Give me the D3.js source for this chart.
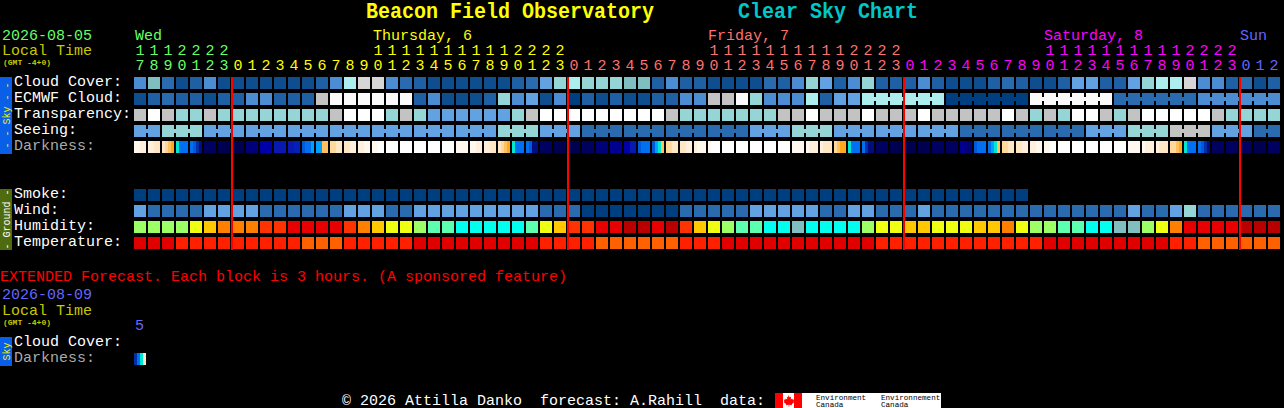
<!DOCTYPE html>
<html><head><meta charset="utf-8"><title>Clear Sky Chart</title>
<script src="https://d3js.org/d3.v7.min.js"></script>
<style>html,body{margin:0;padding:0;background:#000;overflow:hidden}svg{display:block}text{font-family:"Liberation Mono",monospace;white-space:pre}</style>
</head><body><svg id="c" width="1284" height="408"></svg>
<script>
const hours = [17,18,19,20,21,22,23].concat(...[0,1,2].map(()=>d3.range(24)),[0,1,2]);
const dayColorAt = [[0,"#66FF66"],[7,"#FFFF00"],[31,"#FF7070"],[55,"#FF00FF"],[79,"#6666FF"]];
const rowsSky = ["Cloud Cover:","ECMWF Cloud:","Transparency:","Seeing:","Darkness:"];
const rowsGround = ["Smoke:","Wind:","Humidity:","Temperature:"];

const skyColors = ["#003F7F","#0F4E8E","#1F5FA3","#2A6BAF","#4C8CD2","#62A2E2","#80BFBF","#95D5D5","#ACEDED","#C3C3C3","#D6D6D6","#FAFAFA","#FFFFFF"];
const cloudCover = [4,6,3,1,2,4,1,1,1,1,1,1,1,2,4,8,10,10,4,3,2,1,1,1,1,1,1,2,3,5,7,8,7,7,7,6,6,2,4,2,2,1,1,1,1,3,2,4,7,5,2,4,7,2,2,2,4,2,1,1,1,2,3,2,1,1,2,5,5,2,2,5,7,8,8,10,4,4,2,3,1,2];
const ecmwf = [1,2,3,2,2,1,2,2,4,4,2,2,2,9,11,11,11,11,11,11,2,4,1,1,1,2,7,4,5,1,4,0,2,1,2,1,1,2,2,4,4,9,9,11,7,4,4,4,8,2,5,5,8,8,8,8,8,8,0,0,0,0,0,0,11,11,11,11,11,11,3,3,3,3,3,3,4,4,4,4,4,4];
const ecmwfBridgeStart = 52, ecmwfBlock = 6;
const transparency = [9,12,9,7,7,9,7,7,7,7,7,7,7,7,9,12,12,12,7,9,7,5,5,5,5,5,5,7,9,12,12,12,12,12,12,12,12,12,9,7,7,7,7,7,7,7,9,9,12,9,9,9,12,9,9,9,12,9,9,9,9,9,12,9,7,9,7,12,12,9,7,9,12,12,12,12,12,9,7,7,7,7];
const seeing = [5,5,7,7,7,5,5,5,5,5,5,5,5,5,5,5,5,5,5,5,5,5,5,5,5,5,7,7,7,5,5,5,3,3,3,3,3,3,3,3,3,3,3,3,5,5,5,7,7,7,5,5,5,5,5,5,5,5,5,3,3,3,3,3,3,3,3,3,5,5,5,7,7,7,9,9,9,5,5,5,3,3];
const smoke = d3.range(64).map(()=>0);
const wind = [5,3,3,3,3,5,5,5,5,3,3,3,3,3,3,5,5,5,3,3,5,5,5,5,5,5,5,5,5,3,3,3,0,0,0,0,0,0,0,3,3,3,3,3,5,5,5,5,5,3,3,5,5,3,3,3,5,3,3,3,3,3,3,3,3,3,3,3,3,3,3,5,3,3,5,7,3,3,3,3,3,3];

const groundColors = {lime:"#9CFF66",yellow:"#EEFF11",amber:"#FFC800",orange:"#FF8000",redorange:"#FF3300",red:"#E80000",darkred:"#B80000",mint:"#5CFFB0",cyan:"#00FFEE",tealgrey:"#80BFBF"};
const humidityCodes = "L L L L Y A O O O R R X X X X R O A Y Y L M M C C C C C M Y A R R X X D D X D R A Y L M M C C T C C C C L Y Y A A Y Y Y A A O Y L L M M C C T T L Y O X X X X D D D".split(" ");
const humidityMap = {L:"lime",Y:"yellow",A:"amber",O:"orange",R:"redorange",X:"red",D:"darkred",M:"mint",C:"cyan",T:"tealgrey"};
const tempColors = ["#E00000","#FF2000","#FF6000"];
const temperature = [0,0,0,1,1,1,1,1,1,1,1,1,2,2,2,1,1,1,1,1,0,0,0,0,0,0,0,0,0,1,1,1,1,2,2,2,2,2,2,1,1,1,0,0,0,0,0,0,0,0,0,0,0,1,1,1,1,1,1,1,1,1,1,1,1,0,0,0,0,0,0,0,0,0,1,1,2,2,2,2,2,2];

const darkColors = ["#FFFFFF","#FFF8EE","#FFF0DC","#FFE6C4","#FFD89C","#FFC060","#FFA820","#00E8D0","#00A0FF","#0070F0","#0058DC","#0030A8","#000C80","#000050","#000060","#000078","#000090","#0000A8","#0818B0","#0420B8"];
const darkness = [[1,1,2,2],[2,2,3,3],[3,4,5,6],[7,9,9,9],[9,10,11,12],[14,14,14,14],[13,13,13,13],[13,13,13,13],[15,15,15,15],[17,17,17,17],[18,18,18,18],[18,18,19,19],[10,9,9,8],[8,8,5,5],[4,4,3,3],[3,3,2,2],[2,2,1,1],[1,1,0,0],[0,0,0,0],[0,0,0,0],[0,0,0,0],
[0,0,0,0],[0,0,0,0],[1,1,1,1],[1,1,2,2],[2,2,3,3],[3,4,5,6],[7,9,9,9],[9,10,12,12],[14,14,14,14],[13,13,13,13],[13,13,13,13],[14,14,14,14],[15,15,15,15],[16,16,16,16],[17,17,18,18],[10,9,9,9],[10,8,7,5],[4,4,3,3],[3,3,2,2],[2,1,1,1],
[1,0,0,0],[0,0,0,0],[0,0,0,0],[0,0,0,0],[0,0,0,0],[0,0,0,0],[1,1,1,1],[1,2,2,2],[2,3,3,3],[4,5,6,6],[7,9,9,9],[9,11,12,12],[14,14,14,14],[13,13,13,13],[13,13,13,13],[13,13,13,13],[14,14,14,14],[14,14,14,14],[16,16,15,15],[10,9,9,9],[9,8,7,5],
[4,4,3,3],[3,3,2,2],[2,2,1,1],[1,1,0,0],[0,0,0,0],[0,0,0,0],[0,0,0,0],[0,0,0,0],[0,0,0,0],[1,1,1,1],[1,2,2,2],[2,3,3,3],[4,4,5,6],[7,9,9,9],[9,10,11,12],[14,14,14,14],[14,14,14,14],[14,14,14,14],[13,13,13,13],[14,14,14,14]];
const extDarkness = [[11,9,7,3]];
const midnights = [7,31,55,79];

const svg = d3.select("#c");
svg.append("rect").attr("width",1284).attr("height",408).attr("fill","#000");
const x = d3.scaleBand().domain(d3.range(82)).range([134,1280]).paddingInner(2/14).paddingOuter(0);
const ySky = d3.scaleBand().domain(rowsSky).range([77,153]).paddingInner(0.25).paddingOuter(0);
const yGround = d3.scaleBand().domain(rowsGround).range([189,249]).paddingInner(0.25).paddingOuter(0);
const skyScale = d3.scaleOrdinal().domain(d3.range(skyColors.length)).range(skyColors);
const tempScale = d3.scaleOrdinal().domain([0,1,2]).range(tempColors);
const humScale = d3.scaleOrdinal().domain(Object.keys(humidityMap)).range(Object.values(humidityMap).map(k=>groundColors[k]));
const darkScale = d3.scaleOrdinal().domain(d3.range(darkColors.length)).range(darkColors);
const stripX = d3.scaleBand().domain(d3.range(4)).range([0,x.bandwidth()]);
const mono = (s,x0,y0,fill,size,opts={})=>{
  const t = svg.append("text").attr("x",x0).attr("y",y0).attr("fill",fill).attr("font-size",size).text(s);
  if(opts.weight) t.attr("font-weight",opts.weight);
  if(opts.len) t.attr("textLength",opts.len).attr("lengthAdjust","spacingAndGlyphs");
  return t;
};
function drawRow(values, y, rowName, color, bridge){
  const g = svg.append("g");
  g.selectAll("rect.c").data(values).join("rect").attr("class","c")
    .attr("x",(d,i)=>x(i)).attr("y",y(rowName)).attr("width",x.bandwidth()).attr("height",y.bandwidth())
    .attr("fill",d=>color(d)).attr("shape-rendering","crispEdges");
  if(bridge){
    const idx = d3.range(values.length-1).filter(bridge);
    g.selectAll("rect.b").data(idx).join("rect").attr("class","b")
      .attr("x",i=>x(i)+x.bandwidth()).attr("y",y(rowName)+y.bandwidth()/3)
      .attr("width",x.step()-x.bandwidth()).attr("height",y.bandwidth()/3)
      .attr("fill",i=>color(values[i])).attr("shape-rendering","crispEdges");
  }
}
drawRow(cloudCover,ySky,"Cloud Cover:",skyScale);
drawRow(ecmwf,ySky,"ECMWF Cloud:",skyScale,i=>i>=ecmwfBridgeStart&&(i-ecmwfBridgeStart)%ecmwfBlock!==ecmwfBlock-1);
drawRow(transparency,ySky,"Transparency:",skyScale);
drawRow(seeing,ySky,"Seeing:",skyScale,i=>(i+1)%3!==2);
drawRow(smoke,yGround,"Smoke:",skyScale);
drawRow(wind,yGround,"Wind:",skyScale);
drawRow(humidityCodes,yGround,"Humidity:",humScale);
drawRow(temperature,yGround,"Temperature:",tempScale);

function drawDark(data, y0){
  const cells = svg.append("g").selectAll("g").data(data).join("g").attr("transform",(d,i)=>`translate(${x(i)},${y0})`);
  cells.selectAll("rect").data(d=>d).join("rect")
    .attr("x",(d,k)=>stripX(k)).attr("width",stripX.bandwidth()).attr("height",x.bandwidth())
    .attr("fill",d=>darkScale(d)).attr("shape-rendering","crispEdges");
}
drawDark(darkness,ySky("Darkness:"));
drawDark(extDarkness,353);

svg.append("g").selectAll("rect").data(midnights).join("rect")
  .attr("x",i=>x(i)-1).attr("y",77).attr("width",2).attr("height",173).attr("fill","#FF0000");

// header
mono("Beacon Field Observatory",366,18,"#FFFF00",22,{weight:"bold",len:288});
mono("Clear Sky Chart",738,18,"#00C8C8",22,{weight:"bold",len:180});
mono("2026-08-05",2,40,"#66FF66",15);
mono("Local Time",2,55,"#C8C800",15);
mono("(GMT -4+0)",3,65,"#C8C800",8,{weight:"bold"});
const colorAt = i=>dayColorAt.filter(d=>d[0]<=i).pop()[1];
const axisOnes = d3.axisTop(x).tickSize(0).tickPadding(0).tickFormat(i=>hours[i]%10);
const gOnes = svg.append("g").attr("transform","translate(0,70)").call(axisOnes);
const axisTens = d3.axisTop(x).tickSize(0).tickPadding(0).tickValues(x.domain().filter(i=>hours[i]>=10)).tickFormat(i=>Math.floor(hours[i]/10));
const gTens = svg.append("g").attr("transform","translate(0,55)").call(axisTens);
[gOnes,gTens].forEach(g=>{
  g.attr("font-family",null).attr("font-size",15);
  g.select(".domain").remove();
  g.selectAll(".tick line").remove();
  g.selectAll(".tick text").attr("dy",0).attr("fill",i=>colorAt(i));
});
mono("Wed",135,40,"#66FF66",15);
mono("Thursday, 6",373,40,"#FFFF00",15);
mono("Friday, 7",708,40,"#FF7070",15);
mono("Saturday, 8",1044,40,"#FF00FF",15);
mono("Sun",1240,40,"#6666FF",15);

rowsSky.forEach(r=>mono(r,14,ySky(r)+9,r==="Darkness:"?"#AAAAAA":"#FFFFFF",15));
rowsGround.forEach(r=>mono(r,14,yGround(r)+9,"#FFFFFF",15));

// side bands
function band(y0,h,fill,label,tc){
  svg.append("rect").attr("x",0).attr("y",y0).attr("width",12).attr("height",h).attr("fill",fill);
  svg.append("text").attr("transform",`translate(9.5,${y0+h/2}) rotate(-90)`).attr("text-anchor","middle").attr("font-size",10).attr("fill",tc).text(label);
}
band(77,77,"#0A5FE8","- - Sky - -","#F0F000");
band(189,61,"#4F6B10","- Ground -","#FFFFFF");
band(337,29,"#0A5FE8","Sky","#F0F000");

// extended
mono("EXTENDED Forecast. Each block is 3 hours. (A sponsored feature)",0,281,"#FF0000",15);
mono("2026-08-09",2,299,"#6666FF",15);
mono("Local Time",2,315,"#C8C800",15);
mono("(GMT -4+0)",3,325,"#C8C800",8,{weight:"bold"});
mono("5",135,330,"#6666FF",15);
mono("Cloud Cover:",14,346,"#FFFFFF",15);
mono("Darkness:",14,362,"#AAAAAA",15);

// footer
mono("© 2026 Attilla Danko  forecast: A.Rahill  data:",342,404.5,"#FFFFFF",15);
svg.append("rect").attr("x",775).attr("y",393).attr("width",166).attr("height",15).attr("fill","#FFF");
svg.append("rect").attr("x",775).attr("y",393).attr("width",8).attr("height",15).attr("fill","#F00");
svg.append("rect").attr("x",794).attr("y",393).attr("width",8).attr("height",15).attr("fill","#F00");
svg.append("path").attr("d","M788.5 395l1.3 2.4 1.4-.8-.5 3 1.6-1 .4 1.2 1.5-.3-.6 2 .8.5-2.7 2.2.3 1-2.7-.4v2h-.6v-2l-2.7.4.3-1-2.7-2.2.8-.5-.6-2 1.5.3.4-1.2 1.6 1-.5-3 1.4.8z").attr("fill","#F00");
[[816,"Environment"],[881,"Environnement"]].forEach(([px,t])=>{
  mono(t,px,399.5,"#000",7.6);
  mono("Canada",px,407,"#000",7.6);
});
</script></body></html>
